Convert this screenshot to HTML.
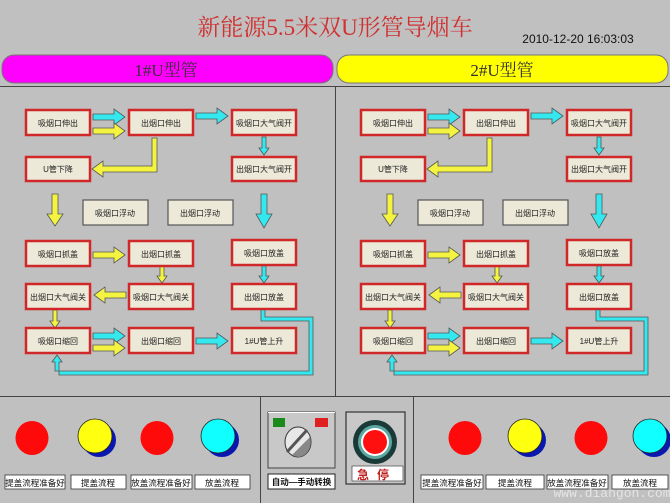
<!DOCTYPE html>
<html><head><meta charset="utf-8"><style>
html,body{margin:0;padding:0;background:#c0c0c0;}
svg{display:block;}
text{font-family:"Liberation Sans","Noto Sans CJK SC",sans-serif;}
.bt{font-size:8px;fill:#222;text-anchor:middle;}
.lb{font-size:8.5px;fill:#111;text-anchor:middle;}
</style></head><body>
<svg width="670" height="503" viewBox="0 0 670 503" xmlns="http://www.w3.org/2000/svg">
<rect width="670" height="503" fill="#c0c0c0"/>
<text x="335" y="35" text-anchor="middle" style="font-family:'Liberation Serif','Noto Serif CJK SC',serif;font-size:23px;fill:#d03030">新能源5.5米双U形管导烟车</text>
<text x="578" y="43" text-anchor="middle" style="font-size:12px;fill:#111">2010-12-20 16:03:03</text>
<rect x="2" y="55" width="331" height="28" rx="12" fill="#ff00ff" stroke="#777" stroke-width="1"/>
<rect x="337" y="55" width="331" height="28" rx="12" fill="#ffff00" stroke="#777" stroke-width="1"/>
<text x="166" y="76" text-anchor="middle" style="font-family:'Liberation Serif','Noto Serif CJK SC',serif;font-size:17px;fill:#333">1#U型管</text>
<text x="502" y="76" text-anchor="middle" style="font-family:'Liberation Serif','Noto Serif CJK SC',serif;font-size:17px;fill:#333">2#U型管</text>
<line x1="0" y1="86.5" x2="670" y2="86.5" stroke="#444"/>
<line x1="335.5" y1="86" x2="335.5" y2="396" stroke="#444"/>
<line x1="0" y1="396.5" x2="670" y2="396.5" stroke="#444"/>
<line x1="260.5" y1="397" x2="260.5" y2="503" stroke="#444"/>
<line x1="413.5" y1="397" x2="413.5" y2="503" stroke="#444"/>

<g>
<g stroke="#555" stroke-width="0.8">
<polygon fill="#33e8ee" points="93,114 114,114 114,109 125,117 114,125 114,120 93,120"/>
<polygon fill="#f4f440" points="93,128 114,128 114,123 125,131 114,139 114,134 93,134"/>
<polygon fill="#33e8ee" points="196,113 217,113 217,108 228,116 217,124 217,119 196,119"/>
<polygon fill="#33e8ee" points="262,137 266,137 266,148 269,148 264,155 259,148 262,148"/>
<polygon fill="#f4f440" points="152,138 157,138 157,172 103,172 103,177 92,169 103,161 103,166 152,166"/>
<polygon fill="#f4f440" points="52,194 58,194 58,214 63,214 55,226 47,214 52,214"/>
<polygon fill="#33e8ee" points="261,194 267,194 267,214 272,214 264,228 256,214 261,214"/>
<polygon fill="#f4f440" points="93,252 114,252 114,247 125,255 114,263 114,258 93,258"/>
<polygon fill="#f4f440" points="160,266 164,266 164,276 167,276 162,283 157,276 160,276"/>
<polygon fill="#f4f440" points="126,292 105,292 105,287 94,295 105,303 105,298 126,298"/>
<polygon fill="#f4f440" points="53,310 57,310 57,321 60,321 55,328 50,321 53,321"/>
<polygon fill="#33e8ee" points="262,266 266,266 266,276 269,276 264,283 259,276 262,276"/>
<polygon fill="#33e8ee" points="93,333 114,333 114,328 125,336 114,344 114,339 93,339"/>
<polygon fill="#f4f440" points="93,345 114,345 114,340 125,348 114,356 114,351 93,351"/>
<polygon fill="#33e8ee" points="196,338 217,338 217,333 228,341 217,349 217,344 196,344"/>
<polygon fill="#33e8ee" points="261,309 265,309 265,317 313,317 313,375 59,375 59,362 62,362 57,355 52,362 55,362 55,371 309,371 309,321 261,321"/>
</g>
<g>
<rect x="26" y="110" width="64" height="25" fill="#ece9d8" stroke="#d02828" stroke-width="2.5"/><text class="bt" x="58" y="126">吸烟口伸出</text>
<rect x="129" y="110" width="64" height="25" fill="#ece9d8" stroke="#d02828" stroke-width="2.5"/><text class="bt" x="161" y="126">出烟口伸出</text>
<rect x="232" y="110" width="64" height="25" fill="#ece9d8" stroke="#d02828" stroke-width="2.5"/><text class="bt" x="264" y="126">吸烟口大气阀开</text>
<rect x="26" y="157" width="64" height="24" fill="#ece9d8" stroke="#d02828" stroke-width="2.5"/><text class="bt" x="58" y="172">U管下降</text>
<rect x="232" y="157" width="64" height="24" fill="#ece9d8" stroke="#d02828" stroke-width="2.5"/><text class="bt" x="264" y="172">出烟口大气阀开</text>
<rect x="83" y="200" width="65" height="25" fill="#ece9d8" stroke="#555" stroke-width="1.2"/><text class="bt" x="115" y="216">吸烟口浮动</text>
<rect x="168" y="200" width="65" height="25" fill="#ece9d8" stroke="#555" stroke-width="1.2"/><text class="bt" x="200" y="216">出烟口浮动</text>
<rect x="26" y="241" width="64" height="25" fill="#ece9d8" stroke="#d02828" stroke-width="2.5"/><text class="bt" x="58" y="257">吸烟口抓盖</text>
<rect x="129" y="241" width="64" height="25" fill="#ece9d8" stroke="#d02828" stroke-width="2.5"/><text class="bt" x="161" y="257">出烟口抓盖</text>
<rect x="232" y="240" width="64" height="25" fill="#ece9d8" stroke="#d02828" stroke-width="2.5"/><text class="bt" x="264" y="256">吸烟口放盖</text>
<rect x="26" y="284" width="64" height="25" fill="#ece9d8" stroke="#d02828" stroke-width="2.5"/><text class="bt" x="58" y="300">出烟口大气阀关</text>
<rect x="129" y="284" width="64" height="25" fill="#ece9d8" stroke="#d02828" stroke-width="2.5"/><text class="bt" x="161" y="300">吸烟口大气阀关</text>
<rect x="232" y="284" width="64" height="25" fill="#ece9d8" stroke="#d02828" stroke-width="2.5"/><text class="bt" x="264" y="300">出烟口放盖</text>
<rect x="26" y="328" width="64" height="25" fill="#ece9d8" stroke="#d02828" stroke-width="2.5"/><text class="bt" x="58" y="344">吸烟口缩回</text>
<rect x="129" y="328" width="64" height="25" fill="#ece9d8" stroke="#d02828" stroke-width="2.5"/><text class="bt" x="161" y="344">出烟口缩回</text>
<rect x="232" y="328" width="64" height="25" fill="#ece9d8" stroke="#d02828" stroke-width="2.5"/><text class="bt" x="264" y="344">1#U管上升</text>
</g>
</g>

<g transform="translate(335,0)">
<g stroke="#555" stroke-width="0.8">
<polygon fill="#33e8ee" points="93,114 114,114 114,109 125,117 114,125 114,120 93,120"/>
<polygon fill="#f4f440" points="93,128 114,128 114,123 125,131 114,139 114,134 93,134"/>
<polygon fill="#33e8ee" points="196,113 217,113 217,108 228,116 217,124 217,119 196,119"/>
<polygon fill="#33e8ee" points="262,137 266,137 266,148 269,148 264,155 259,148 262,148"/>
<polygon fill="#f4f440" points="152,138 157,138 157,172 103,172 103,177 92,169 103,161 103,166 152,166"/>
<polygon fill="#f4f440" points="52,194 58,194 58,214 63,214 55,226 47,214 52,214"/>
<polygon fill="#33e8ee" points="261,194 267,194 267,214 272,214 264,228 256,214 261,214"/>
<polygon fill="#f4f440" points="93,252 114,252 114,247 125,255 114,263 114,258 93,258"/>
<polygon fill="#f4f440" points="160,266 164,266 164,276 167,276 162,283 157,276 160,276"/>
<polygon fill="#f4f440" points="126,292 105,292 105,287 94,295 105,303 105,298 126,298"/>
<polygon fill="#f4f440" points="53,310 57,310 57,321 60,321 55,328 50,321 53,321"/>
<polygon fill="#33e8ee" points="262,266 266,266 266,276 269,276 264,283 259,276 262,276"/>
<polygon fill="#33e8ee" points="93,333 114,333 114,328 125,336 114,344 114,339 93,339"/>
<polygon fill="#f4f440" points="93,345 114,345 114,340 125,348 114,356 114,351 93,351"/>
<polygon fill="#33e8ee" points="196,338 217,338 217,333 228,341 217,349 217,344 196,344"/>
<polygon fill="#33e8ee" points="261,309 265,309 265,317 313,317 313,375 59,375 59,362 62,362 57,355 52,362 55,362 55,371 309,371 309,321 261,321"/>
</g>
<g>
<rect x="26" y="110" width="64" height="25" fill="#ece9d8" stroke="#d02828" stroke-width="2.5"/><text class="bt" x="58" y="126">吸烟口伸出</text>
<rect x="129" y="110" width="64" height="25" fill="#ece9d8" stroke="#d02828" stroke-width="2.5"/><text class="bt" x="161" y="126">出烟口伸出</text>
<rect x="232" y="110" width="64" height="25" fill="#ece9d8" stroke="#d02828" stroke-width="2.5"/><text class="bt" x="264" y="126">吸烟口大气阀开</text>
<rect x="26" y="157" width="64" height="24" fill="#ece9d8" stroke="#d02828" stroke-width="2.5"/><text class="bt" x="58" y="172">U管下降</text>
<rect x="232" y="157" width="64" height="24" fill="#ece9d8" stroke="#d02828" stroke-width="2.5"/><text class="bt" x="264" y="172">出烟口大气阀开</text>
<rect x="83" y="200" width="65" height="25" fill="#ece9d8" stroke="#555" stroke-width="1.2"/><text class="bt" x="115" y="216">吸烟口浮动</text>
<rect x="168" y="200" width="65" height="25" fill="#ece9d8" stroke="#555" stroke-width="1.2"/><text class="bt" x="200" y="216">出烟口浮动</text>
<rect x="26" y="241" width="64" height="25" fill="#ece9d8" stroke="#d02828" stroke-width="2.5"/><text class="bt" x="58" y="257">吸烟口抓盖</text>
<rect x="129" y="241" width="64" height="25" fill="#ece9d8" stroke="#d02828" stroke-width="2.5"/><text class="bt" x="161" y="257">出烟口抓盖</text>
<rect x="232" y="240" width="64" height="25" fill="#ece9d8" stroke="#d02828" stroke-width="2.5"/><text class="bt" x="264" y="256">吸烟口放盖</text>
<rect x="26" y="284" width="64" height="25" fill="#ece9d8" stroke="#d02828" stroke-width="2.5"/><text class="bt" x="58" y="300">出烟口大气阀关</text>
<rect x="129" y="284" width="64" height="25" fill="#ece9d8" stroke="#d02828" stroke-width="2.5"/><text class="bt" x="161" y="300">吸烟口大气阀关</text>
<rect x="232" y="284" width="64" height="25" fill="#ece9d8" stroke="#d02828" stroke-width="2.5"/><text class="bt" x="264" y="300">出烟口放盖</text>
<rect x="26" y="328" width="64" height="25" fill="#ece9d8" stroke="#d02828" stroke-width="2.5"/><text class="bt" x="58" y="344">吸烟口缩回</text>
<rect x="129" y="328" width="64" height="25" fill="#ece9d8" stroke="#d02828" stroke-width="2.5"/><text class="bt" x="161" y="344">出烟口缩回</text>
<rect x="232" y="328" width="64" height="25" fill="#ece9d8" stroke="#d02828" stroke-width="2.5"/><text class="bt" x="264" y="344">1#U管上升</text>
</g>
</g>

<ellipse cx="32" cy="438" rx="16.5" ry="17" fill="#ff0a0a"/>
<ellipse cx="99" cy="440" rx="17" ry="17" fill="#0a18b0"/>
<ellipse cx="95" cy="436" rx="17" ry="17" fill="#ffff10" stroke="#222" stroke-width="0.8"/>
<ellipse cx="157" cy="438" rx="16.5" ry="17" fill="#ff0a0a"/>
<ellipse cx="222" cy="440" rx="17" ry="17" fill="#0a18b0"/>
<ellipse cx="218" cy="436" rx="17" ry="17" fill="#10ffff" stroke="#222" stroke-width="0.8"/>
<g stroke="#333" stroke-width="0.8" fill="#fff">
<rect x="5" y="475" width="60" height="14"/><rect x="71" y="475" width="55" height="14"/>
<rect x="131" y="475" width="61" height="14"/><rect x="195" y="475" width="55" height="14"/>
</g>
<text class="lb" x="35" y="486">提盖流程准备好</text><text class="lb" x="98" y="486">提盖流程</text>
<text class="lb" x="161" y="486">放盖流程准备好</text><text class="lb" x="222" y="486">放盖流程</text>

<ellipse cx="465" cy="438" rx="16.5" ry="17" fill="#ff0a0a"/>
<ellipse cx="529" cy="440" rx="17" ry="17" fill="#0a18b0"/>
<ellipse cx="525" cy="436" rx="17" ry="17" fill="#ffff10" stroke="#222" stroke-width="0.8"/>
<ellipse cx="591" cy="438" rx="16.5" ry="17" fill="#ff0a0a"/>
<ellipse cx="654" cy="440" rx="17" ry="17" fill="#0a18b0"/>
<ellipse cx="650" cy="436" rx="17" ry="17" fill="#10ffff" stroke="#222" stroke-width="0.8"/>
<g stroke="#333" stroke-width="0.8" fill="#fff">
<rect x="421" y="475" width="62" height="14"/><rect x="486" y="475" width="58" height="14"/>
<rect x="547" y="475" width="61" height="14"/><rect x="612" y="475" width="56" height="14"/>
</g>
<text class="lb" x="452" y="486">提盖流程准备好</text><text class="lb" x="515" y="486">提盖流程</text>
<text class="lb" x="577" y="486">放盖流程准备好</text><text class="lb" x="640" y="486">放盖流程</text>

<rect x="268" y="412" width="67" height="56" fill="#c8c8c8" stroke="#444" stroke-width="1"/>
<line x1="268" y1="412.5" x2="335" y2="412.5" stroke="#fff"/>
<rect x="273" y="418" width="12" height="9" fill="#1a8a1a"/>
<rect x="315" y="418" width="13" height="9" fill="#e02020"/>
<ellipse cx="298" cy="442" rx="13" ry="15" fill="#e8e8e8" stroke="#333" stroke-width="1"/>
<path d="M287,452 L307,430" stroke="#555" stroke-width="3"/>
<path d="M292,455 L310,437 A13,15 0 0 1 298,457 Z" fill="#888"/>
<rect x="268" y="474" width="67" height="15" fill="#fff" stroke="#222" stroke-width="1"/>
<text x="301.5" y="485" text-anchor="middle" style="font-size:8.5px;font-weight:bold;fill:#111">自动—手动转换</text>

<rect x="346" y="412" width="59" height="72" fill="#c8c8c8" stroke="#333" stroke-width="1.2"/>
<circle cx="375" cy="442" r="22" fill="#1a3a38"/>
<circle cx="375" cy="442" r="17" fill="#5aa8a0"/>
<circle cx="375" cy="442" r="14" fill="#fff"/>
<circle cx="375" cy="442" r="12" fill="#ff1010"/>
<rect x="352" y="466" width="51" height="15" fill="#fff" stroke="#555" stroke-width="0.8"/>
<text x="377" y="479" text-anchor="middle" style="font-size:12px;font-weight:bold;fill:#c02020;letter-spacing:8px">急停</text>

<text x="612" y="497" text-anchor="middle" style="font-family:'Liberation Mono',monospace;font-size:13px;fill:#e4e4e4">www.diangon.com</text>
</svg>
</body></html>
